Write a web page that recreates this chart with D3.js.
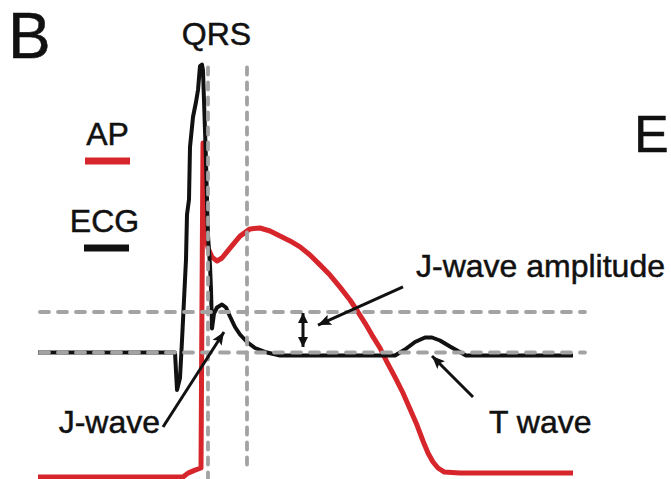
<!DOCTYPE html>
<html>
<head>
<meta charset="utf-8">
<script src="https://cdn.jsdelivr.net/npm/d3@7"></script>
<style>
  html, body { margin: 0; padding: 0; background: #fff; }
  svg { display: block; }
  text { font-family: "Liberation Sans", Arial, Helvetica, sans-serif; fill: #111; stroke: #111; stroke-width: 0.5px; }
</style>
</head>
<body>
<svg id="chart" width="671" height="479"></svg>
<script>
// ---- Data (time in ms, voltages in mV) ----
const ecgTime = [0, 109.6, 111.2, 113.6, 115.2, 116.8, 118.4, 119.2, 120.8, 121.6, 124.0, 126.4, 128.0, 129.6, 131.2,
  132.0, 132.8, 133.6, 134.4, 135.2, 136.0, 137.6, 138.4, 139.2, 140.8, 143.2, 147.2, 150.4, 153.6, 157.6, 161.6,
  167.2, 173.6, 183.2, 193.6, 285.6, 293.6, 301.6, 309.6, 315.2, 321.6, 329.6, 336.0, 342.4, 428];
const ecgVolt = [0.01, 0.01, -0.24, -0.16, 0.09, 0.36, 0.63, 0.93, 1.03, 1.38, 1.58, 1.68, 1.76, 1.92, 1.93,
  1.89, 1.69, 1.49, 1.29, 1.03, 0.79, 0.59, 0.43, 0.17, 0.27, 0.31, 0.33, 0.31, 0.25, 0.18, 0.13,
  0.08, 0.04, 0.01, -0.01, -0.01, 0.03, 0.08, 0.11, 0.11, 0.09, 0.05, 0.02, -0.01, -0.01];

const apTime = [0, 116, 120, 125.6, 130.4, 131.2, 132, 132.8, 133.6, 136, 139.2, 143.2, 147.2, 153.6, 161.6, 169.6,
  177.6, 185.6, 193.6, 201.6, 209.6, 217.6, 225.6, 233.6, 241.6, 249.6, 256, 261.6, 267.2, 273.6, 279.2, 285.6,
  292, 297.6, 303.2, 308, 312, 316, 320, 324.8, 337.6, 428];
const apVolt = [-85, -85, -83.7, -82.7, -82, -26, 26.3, 14, -2.7, -8.7, -11.7, -13, -12, -8.7, -4.7, -2.3,
  -2, -3, -4.7, -6.3, -8.3, -11, -14.3, -17.7, -21.7, -26, -30, -33.7, -37.7, -42, -46.7, -51.7,
  -57, -62.3, -67.7, -73, -77, -80, -82, -83.3, -83.7, -83.7];

// reference markers
const qrsMarkers = [136, 167.2];          // ms, vertical dashed lines
const jLevels = [0.28, 0.01];             // mV (ECG), horizontal dashed lines
const legendLabels = ["AP", "ECG"];

// ---- Scales ----
const x = d3.scaleLinear().domain([0, 428]).range([38, 573]);
const yEcg = d3.scaleLinear().domain([0, 1]).range([354, 204]);
const yAp = d3.scaleLinear().domain([-85, 35]).range([477, 117]);

const RED = "#d7262b", BLACK = "#111111", GRAY = "#a3a3a3";
const svg = d3.select("#chart");

// defs: arrowheads
const defs = svg.append("defs");
defs.append("marker").attr("id", "ah").attr("viewBox", "0 0 12 10")
  .attr("refX", 12).attr("refY", 5).attr("markerWidth", 13).attr("markerHeight", 11)
  .attr("markerUnits", "userSpaceOnUse").attr("orient", "auto-start-reverse")
  .append("path").attr("d", "M0,0 L12,5 L0,10 L2.5,5 z").attr("fill", BLACK);
defs.append("marker").attr("id", "ahs").attr("viewBox", "0 0 10 10")
  .attr("refX", 10).attr("refY", 5).attr("markerWidth", 10).attr("markerHeight", 10)
  .attr("markerUnits", "userSpaceOnUse").attr("orient", "auto-start-reverse")
  .append("path").attr("d", "M0,0 L10,5 L0,10 z").attr("fill", BLACK);

// ---- Traces ----
const apData = apTime.map((t, i) => [t, apVolt[i]]);
const ecgData = ecgTime.map((t, i) => [t, ecgVolt[i]]);

svg.append("path").datum(apData)
  .attr("d", d3.line().x(d => x(d[0])).y(d => yAp(d[1])))
  .attr("fill", "none").attr("stroke", RED).attr("stroke-width", 5)
  .attr("stroke-linejoin", "round");

svg.append("path").datum(ecgData)
  .attr("d", d3.line().x(d => x(d[0])).y(d => yEcg(d[1])))
  .attr("fill", "none").attr("stroke", BLACK).attr("stroke-width", 4)
  .attr("stroke-linejoin", "round");

// ---- Dashed reference lines ----
svg.selectAll(".vdash").data(qrsMarkers).join("line")
  .attr("x1", d => x(d)).attr("x2", d => x(d))
  .attr("y1", yEcg(1.91)).attr("y2", (d, i) => i === 0 ? 479 : 472)
  .attr("stroke", GRAY).attr("stroke-width", 3.8)
  .attr("stroke-linecap", "round").attr("stroke-dasharray", "7,8");

svg.selectAll(".hdash").data(jLevels).join("line")
  .attr("x1", x(1.6)).attr("x2", x(437.6))
  .attr("y1", d => yEcg(d)).attr("y2", d => yEcg(d))
  .attr("stroke", GRAY).attr("stroke-width", 3.8)
  .attr("stroke-linecap", "round").attr("stroke-dasharray", "9,9");

// ---- Annotation arrows (data coords: ms, ECG mV) ----
const arrows = [
  { from: [100, -0.487], to: [148.8, 0.147], both: false },
  { from: [292, 0.447], to: [224, 0.193], both: false },
  { from: [348, -0.287], to: [315.2, -0.013], both: false },
  { from: [212, 0.273], to: [212, 0.047], both: true }
];
svg.selectAll(".arrow").data(arrows).join("line")
  .attr("x1", d => x(d.from[0])).attr("y1", d => yEcg(d.from[1]))
  .attr("x2", d => x(d.to[0])).attr("y2", d => yEcg(d.to[1]))
  .attr("stroke", BLACK).attr("stroke-width", 3)
  .attr("marker-end", d => d.both ? "url(#ahs)" : "url(#ah)")
  .attr("marker-start", d => d.both ? "url(#ahs)" : null);

// ---- Labels ----
const fs = 32;
svg.append("text").attr("x", x(97.6)).attr("y", yEcg(-0.527)).attr("text-anchor", "end")
  .attr("font-size", fs).text("J-wave");
svg.append("text").attr("x", x(302.4)).attr("y", yEcg(0.513))
  .attr("font-size", fs).text("J-wave amplitude");
svg.append("text").attr("x", x(360.8)).attr("y", yEcg(-0.527))
  .attr("font-size", fs).text("T wave");
svg.append("text").attr("x", 216.5).attr("y", 45).attr("text-anchor", "middle")
  .attr("font-size", fs).text("QRS");

// panel letters
svg.append("text").attr("x", 8).attr("y", 58).attr("font-size", 64).text("B");
svg.append("text").attr("x", 634).attr("y", 152).attr("font-size", 52).text("E");

// legend
const legend = svg.append("g");
const legColors = [RED, BLACK];
const legTextY = [145, 232], legLineY = [161, 248], legCx = [107.5, 104.5];
legendLabels.forEach((lab, i) => {
  legend.append("text").attr("x", legCx[i]).attr("y", legTextY[i]).attr("text-anchor", "middle")
    .attr("font-size", fs).text(lab);
  legend.append("line").attr("x1", 85 - i).attr("x2", 130 - i)
    .attr("y1", legLineY[i]).attr("y2", legLineY[i])
    .attr("stroke", legColors[i]).attr("stroke-width", 7);
});
</script>
</body>
</html>
